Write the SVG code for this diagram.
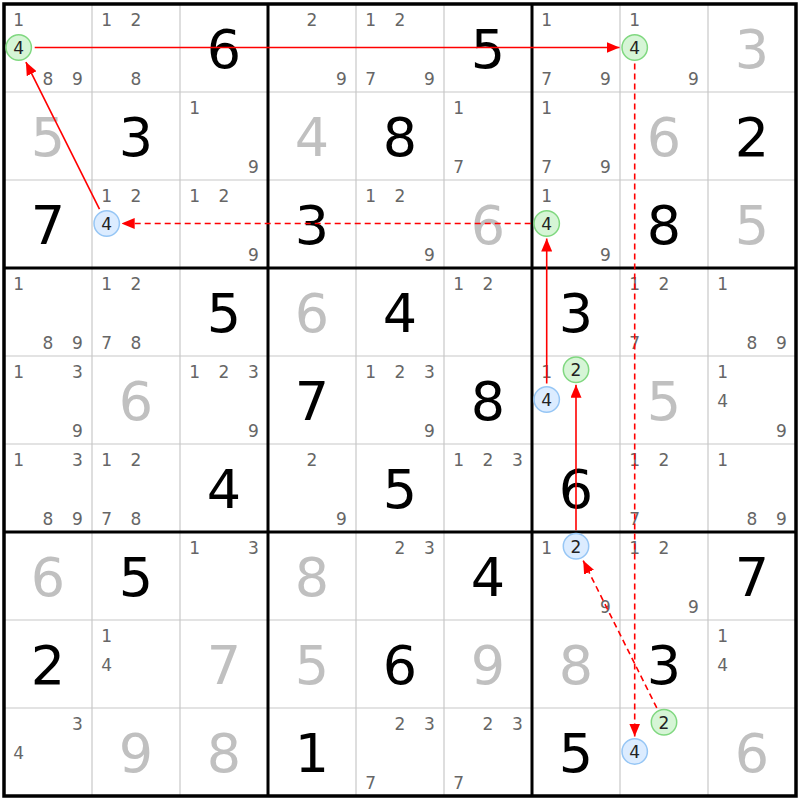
<svg xmlns="http://www.w3.org/2000/svg" width="800" height="800" viewBox="0 0 800 800">
<style>
text{font-family:"DejaVu Sans",Verdana,sans-serif;text-anchor:middle}
.c{font-size:17px;fill:#666}
.b{font-size:54px;fill:#000}
.s{font-size:54px;fill:#c0c0c0}
.k{font-size:17px;fill:#222}
.gc{fill:#d6f5d6;stroke:#80d880;stroke-width:1.5}
.bc{fill:#dcecff;stroke:#96c6f5;stroke-width:1.5}
.thin{stroke:#c8c8c8;stroke-width:1.2}
.thick{stroke:#000;stroke-width:3}
.ln{stroke:#f00;stroke-width:1.6;fill:none}
.d{stroke-dasharray:6,4}
</style>
<defs>
<marker id="ah" markerUnits="userSpaceOnUse" markerWidth="13" markerHeight="11" viewBox="0 0 13 11" refX="13" refY="5.5" orient="auto"><path d="M0,0 L13,5.5 L0,11 z" fill="#f00"/></marker>
</defs>
<rect x="0" y="0" width="800" height="800" fill="#fff"/>
<g id="grid">
<path class="thin" d="M92,4V796M180,4V796M356,4V796M444,4V796M620,4V796M708,4V796M4,92H796M4,180H796M4,356H796M4,444H796M4,620H796M4,708H796"/>
<path class="thick" d="M268,4V796M532,4V796M4,268H796M4,532H796"/>
<rect x="4" y="4" width="792" height="792" fill="none" stroke="#000" stroke-width="3.5"/>
</g>
<g id="cells">
<g id="r0c0"><text class="c" x="18.7" y="26">1</text><text class="c" x="48" y="84.6">8</text><text class="c" x="77.3" y="84.6">9</text><circle class="gc" cx="18.7" cy="47.5" r="12.7"/><text class="k" x="18.7" y="54">4</text></g>
<g id="r0c1"><text class="c" x="106.7" y="26">1</text><text class="c" x="136" y="26">2</text><text class="c" x="136" y="84.6">8</text></g>
<g id="r0c2"><text class="b" x="224" y="67.7">6</text></g>
<g id="r0c3"><text class="c" x="312" y="26">2</text><text class="c" x="341.3" y="84.6">9</text></g>
<g id="r0c4"><text class="c" x="370.7" y="26">1</text><text class="c" x="400" y="26">2</text><text class="c" x="370.7" y="84.6">7</text><text class="c" x="429.3" y="84.6">9</text></g>
<g id="r0c5"><text class="b" x="488" y="67.7">5</text></g>
<g id="r0c6"><text class="c" x="546.7" y="26">1</text><text class="c" x="546.7" y="84.6">7</text><text class="c" x="605.3" y="84.6">9</text></g>
<g id="r0c7"><text class="c" x="634.7" y="26">1</text><text class="c" x="693.3" y="84.6">9</text><circle class="gc" cx="634.7" cy="47.5" r="12.7"/><text class="k" x="634.7" y="54">4</text></g>
<g id="r0c8"><text class="s" x="752" y="67.7">3</text></g>

<g id="r1c0"><text class="s" x="48" y="155.7">5</text></g>
<g id="r1c1"><text class="b" x="136" y="155.7">3</text></g>
<g id="r1c2"><text class="c" x="194.7" y="114">1</text><text class="c" x="253.3" y="172.6">9</text></g>
<g id="r1c3"><text class="s" x="312" y="155.7">4</text></g>
<g id="r1c4"><text class="b" x="400" y="155.7">8</text></g>
<g id="r1c5"><text class="c" x="458.7" y="114">1</text><text class="c" x="458.7" y="172.6">7</text></g>
<g id="r1c6"><text class="c" x="546.7" y="114">1</text><text class="c" x="546.7" y="172.6">7</text><text class="c" x="605.3" y="172.6">9</text></g>
<g id="r1c7"><text class="s" x="664" y="155.7">6</text></g>
<g id="r1c8"><text class="b" x="752" y="155.7">2</text></g>

<g id="r2c0"><text class="b" x="48" y="243.7">7</text></g>
<g id="r2c1"><text class="c" x="106.7" y="202">1</text><text class="c" x="136" y="202">2</text><circle class="bc" cx="106.7" cy="223.5" r="12.7"/><text class="k" x="106.7" y="230">4</text></g>
<g id="r2c2"><text class="c" x="194.7" y="202">1</text><text class="c" x="224" y="202">2</text><text class="c" x="253.3" y="260.6">9</text></g>
<g id="r2c3"><text class="b" x="312" y="243.7">3</text></g>
<g id="r2c4"><text class="c" x="370.7" y="202">1</text><text class="c" x="400" y="202">2</text><text class="c" x="429.3" y="260.6">9</text></g>
<g id="r2c5"><text class="s" x="488" y="243.7">6</text></g>
<g id="r2c6"><text class="c" x="546.7" y="202">1</text><text class="c" x="605.3" y="260.6">9</text><circle class="gc" cx="546.7" cy="223.5" r="12.7"/><text class="k" x="546.7" y="230">4</text></g>
<g id="r2c7"><text class="b" x="664" y="243.7">8</text></g>
<g id="r2c8"><text class="s" x="752" y="243.7">5</text></g>

<g id="r3c0"><text class="c" x="18.7" y="290">1</text><text class="c" x="48" y="348.6">8</text><text class="c" x="77.3" y="348.6">9</text></g>
<g id="r3c1"><text class="c" x="106.7" y="290">1</text><text class="c" x="136" y="290">2</text><text class="c" x="106.7" y="348.6">7</text><text class="c" x="136" y="348.6">8</text></g>
<g id="r3c2"><text class="b" x="224" y="331.7">5</text></g>
<g id="r3c3"><text class="s" x="312" y="331.7">6</text></g>
<g id="r3c4"><text class="b" x="400" y="331.7">4</text></g>
<g id="r3c5"><text class="c" x="458.7" y="290">1</text><text class="c" x="488" y="290">2</text></g>
<g id="r3c6"><text class="b" x="576" y="331.7">3</text></g>
<g id="r3c7"><text class="c" x="634.7" y="290">1</text><text class="c" x="664" y="290">2</text><text class="c" x="634.7" y="348.6">7</text></g>
<g id="r3c8"><text class="c" x="722.7" y="290">1</text><text class="c" x="752" y="348.6">8</text><text class="c" x="781.3" y="348.6">9</text></g>

<g id="r4c0"><text class="c" x="18.7" y="378">1</text><text class="c" x="77.3" y="378">3</text><text class="c" x="77.3" y="436.6">9</text></g>
<g id="r4c1"><text class="s" x="136" y="419.7">6</text></g>
<g id="r4c2"><text class="c" x="194.7" y="378">1</text><text class="c" x="224" y="378">2</text><text class="c" x="253.3" y="378">3</text><text class="c" x="253.3" y="436.6">9</text></g>
<g id="r4c3"><text class="b" x="312" y="419.7">7</text></g>
<g id="r4c4"><text class="c" x="370.7" y="378">1</text><text class="c" x="400" y="378">2</text><text class="c" x="429.3" y="378">3</text><text class="c" x="429.3" y="436.6">9</text></g>
<g id="r4c5"><text class="b" x="488" y="419.7">8</text></g>
<g id="r4c6"><text class="c" x="546.7" y="378">1</text><circle class="gc" cx="576" cy="369.7" r="12.7"/><text class="k" x="576" y="376.2">2</text><circle class="bc" cx="546.7" cy="399.5" r="12.7"/><text class="k" x="546.7" y="406">4</text></g>
<g id="r4c7"><text class="s" x="664" y="419.7">5</text></g>
<g id="r4c8"><text class="c" x="722.7" y="378">1</text><text class="c" x="722.7" y="407.3">4</text><text class="c" x="781.3" y="436.6">9</text></g>

<g id="r5c0"><text class="c" x="18.7" y="466">1</text><text class="c" x="77.3" y="466">3</text><text class="c" x="48" y="524.6">8</text><text class="c" x="77.3" y="524.6">9</text></g>
<g id="r5c1"><text class="c" x="106.7" y="466">1</text><text class="c" x="136" y="466">2</text><text class="c" x="106.7" y="524.6">7</text><text class="c" x="136" y="524.6">8</text></g>
<g id="r5c2"><text class="b" x="224" y="507.7">4</text></g>
<g id="r5c3"><text class="c" x="312" y="466">2</text><text class="c" x="341.3" y="524.6">9</text></g>
<g id="r5c4"><text class="b" x="400" y="507.7">5</text></g>
<g id="r5c5"><text class="c" x="458.7" y="466">1</text><text class="c" x="488" y="466">2</text><text class="c" x="517.3" y="466">3</text></g>
<g id="r5c6"><text class="b" x="576" y="507.7">6</text></g>
<g id="r5c7"><text class="c" x="634.7" y="466">1</text><text class="c" x="664" y="466">2</text><text class="c" x="634.7" y="524.6">7</text></g>
<g id="r5c8"><text class="c" x="722.7" y="466">1</text><text class="c" x="752" y="524.6">8</text><text class="c" x="781.3" y="524.6">9</text></g>

<g id="r6c0"><text class="s" x="48" y="595.7">6</text></g>
<g id="r6c1"><text class="b" x="136" y="595.7">5</text></g>
<g id="r6c2"><text class="c" x="194.7" y="554">1</text><text class="c" x="253.3" y="554">3</text></g>
<g id="r6c3"><text class="s" x="312" y="595.7">8</text></g>
<g id="r6c4"><text class="c" x="400" y="554">2</text><text class="c" x="429.3" y="554">3</text></g>
<g id="r6c5"><text class="b" x="488" y="595.7">4</text></g>
<g id="r6c6"><text class="c" x="546.7" y="554">1</text><text class="c" x="605.3" y="612.6">9</text><circle class="bc" cx="576" cy="546.2" r="12.7"/><text class="k" x="576" y="552.7">2</text></g>
<g id="r6c7"><text class="c" x="634.7" y="554">1</text><text class="c" x="664" y="554">2</text><text class="c" x="693.3" y="612.6">9</text></g>
<g id="r6c8"><text class="b" x="752" y="595.7">7</text></g>

<g id="r7c0"><text class="b" x="48" y="683.7">2</text></g>
<g id="r7c1"><text class="c" x="106.7" y="642">1</text><text class="c" x="106.7" y="671.3">4</text></g>
<g id="r7c2"><text class="s" x="224" y="683.7">7</text></g>
<g id="r7c3"><text class="s" x="312" y="683.7">5</text></g>
<g id="r7c4"><text class="b" x="400" y="683.7">6</text></g>
<g id="r7c5"><text class="s" x="488" y="683.7">9</text></g>
<g id="r7c6"><text class="s" x="576" y="683.7">8</text></g>
<g id="r7c7"><text class="b" x="664" y="683.7">3</text></g>
<g id="r7c8"><text class="c" x="722.7" y="642">1</text><text class="c" x="722.7" y="671.3">4</text></g>

<g id="r8c0"><text class="c" x="77.3" y="730">3</text><text class="c" x="18.7" y="759.3">4</text></g>
<g id="r8c1"><text class="s" x="136" y="771.7">9</text></g>
<g id="r8c2"><text class="s" x="224" y="771.7">8</text></g>
<g id="r8c3"><text class="b" x="312" y="771.7">1</text></g>
<g id="r8c4"><text class="c" x="400" y="730">2</text><text class="c" x="429.3" y="730">3</text><text class="c" x="370.7" y="788.6">7</text></g>
<g id="r8c5"><text class="c" x="488" y="730">2</text><text class="c" x="517.3" y="730">3</text><text class="c" x="458.7" y="788.6">7</text></g>
<g id="r8c6"><text class="b" x="576" y="771.7">5</text></g>
<g id="r8c7"><circle class="gc" cx="664" cy="722.2" r="12.7"/><text class="k" x="664" y="728.7">2</text><circle class="bc" cx="634.7" cy="751.5" r="12.7"/><text class="k" x="634.7" y="758">4</text></g>
<g id="r8c8"><text class="s" x="752" y="771.7">6</text></g>
</g>
<g id="connectors">
<line class="ln" x1="34.7" y1="47.5" x2="619.5" y2="47.5" marker-end="url(#ah)"/>
<line class="ln d" x1="634.7" y1="63.5" x2="634.7" y2="736.5" marker-end="url(#ah)"/>
<line class="ln d" x1="656.8" y1="707.9" x2="583.2" y2="560.6" marker-end="url(#ah)"/>
<line class="ln" x1="576" y1="530.2" x2="576" y2="384.7" marker-end="url(#ah)"/>
<line class="ln" x1="546.7" y1="383.5" x2="546.7" y2="238.5" marker-end="url(#ah)"/>
<line class="ln d" x1="530.7" y1="223.5" x2="121.7" y2="223.5" marker-end="url(#ah)"/>
<line class="ln" x1="99.5" y1="209.2" x2="25.9" y2="62.1" marker-end="url(#ah)"/>
</g>
</svg>
